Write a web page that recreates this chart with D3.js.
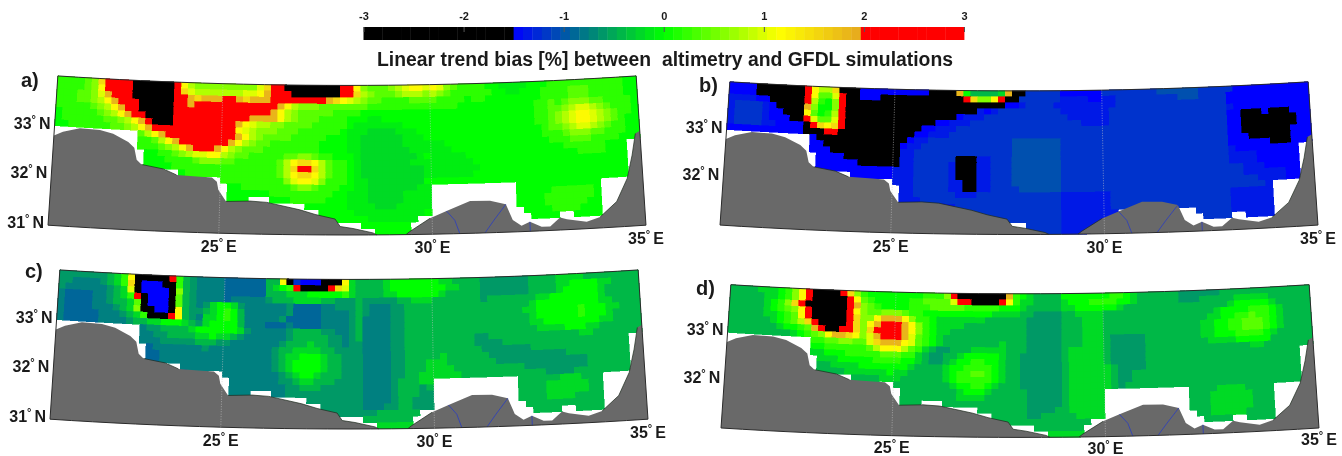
<!DOCTYPE html>
<html>
<head>
<meta charset="utf-8">
<title>Linear trend bias</title>
<script src="https://d3js.org/d3.v7.min.js"></script>
<style>
  body { margin: 0; background: #fff; }
  svg { filter: blur(0.4px); }
  text { font-family: "Liberation Sans", Arial, sans-serif; font-weight: bold; fill: #1a1a1a; }
</style>
</head>
<body>
<svg width="1342" height="456"></svg>
<script>
// Colour bar
var barDomain = [-3, 3];
var barTicks = [-3, -2, -1, 0, 1, 2, 3];
var barSteps = 64;

// Code letters used in the grids below -> bias in %
var levelCodes = ["k", "b", "a", "c", "j", "d", "e", "f", "g", "h", "i", "0", "1", "2", "3", "4", "5", "6", "7", "8", "r"];
var levelValues = [-2, -1.5, -1.35, -1.2, -1.03, -0.9, -0.75, -0.6, -0.42, -0.22, -0.1, 0, 0.2, 0.4, 0.6, 0.8, 1, 1.2, 1.5, 1.85, 2.5];

// Grid: 6 cells per degree lon from 21E, 8 per degree lat from 34N, one group per degree
var lonStart = 21, lonStep = 1 / 6, latStart = 34, latStep = 1 / 8;

// a) altimetry vs GFDL
var biasA = [
"111123 7rrrrk kkkkkr 643333 333335 7rrkkk kkkkkr r63222 345665 653211 1100ii ii0001 111111 111100",
"111123 6rrrrk kkkkkr 754444 444556 8rrrkk kkkkkr r74322 234443 432111 11100i i00011 112221 111100",
"111223 58rrrk kkkkkr r87888 rr8788 8rrrrr rrr876 543221 111222 211110 110000 000011 112221 111100",
"111223 468rrr kkkkkr r8rrrr rrrrrr rr8643 332222 222111 111111 111100 000000 000112 123332 211110",
"111112 3468rr kkkkkr rrrrrr rrrrrr r86432 222211 110000 000000 000000 000000 000112 234554 321110",
"011111 23468r rkkkkr rrrrrr rrrr88 886432 221111 000ii0 000000 000000 000000 000112 345665 432110",
"011111 122346 8rkkkr rrrrrr rr8654 433222 211111 0iiiii ii0000 000000 000000 000112 345665 432100",
"001111 112234 68rrrr rrrrrr rr6543 332221 111110 iiihhh hiii00 000000 000000 000012 234554 321100",
"...... ...... 2468rr rrrrrr rr8643 222211 111000 iihhhh hhiii0 000000 000000 000011 123332 211100",
"...... ...... 112468 rrrrrr r86432 211111 110000 iihhhh hhiiii ii0000 000000 000001 112221 111000",
"...... ...... 111234 68rrr8 643222 111111 110000 iihhhh hhhiii iii000 000000 000000 011111 1000..",
"...... ...... .00112 345566 432211 111223 321100 0ihhhh hhhhi0 iiiii0 000000 000000 000111 1000..",
"...... ...... .00011 112333 221111 112467 764211 0ihhhh hhhiii iiiiii 000000 000000 000000 0000..",
"...... ...... .00001 111111 111111 11247r r74211 0ihhhh hhhhhi iiiiii i00000 000000 000000 0000..",
"...... ...... ...... 011111 111111 112467 764211 0ihhhh hhhhhi iiiiii 000000 000000 000000 0000..",
"...... ...... ...... 0111.. 111111 111356 653111 0iihhh hhhhh0 000000 000000 000000 000000 0000..",
"...... ...... ...... ...... .00111 111123 321110 0iihhh hhhhii ...... ...... 000000 000000 ......",
"...... ...... ...... ...... .00000 011111 111100 iiihhh hhiiii ...... ...... 000001 111110 ......",
"...... ...... ...... ...... .000.. .00011 111000 iiihhh hhiiii ...... ...... 000011 111110 ......",
"...... ...... ...... ...... ...... ...... 000000 iiiihh hiiiii ...... ...... 000011 111100 ......",
"...... ...... ...... ...... ...... ...... ..0000 0iiiii iiiii0 ...... ...... .00001 111000 ......",
"...... ...... ...... ...... ...... ...... ..0000 000iii iiii.. ...... ...... ..0000 ..0000 ......",
"...... ...... ...... ...... ...... ...... ...... ..0000 000... ...... ...... ...... ...... ......",
"...... ...... ...... ...... ...... ...... ...... ....00 000... ...... ...... ...... ...... ......"
];

// b)
var biasB = [
"bbbbkk kkkkkr 6447kk kbbbbb bbbbbk kkk80g gggh8k kccccc bbbbbb cccccc ccjjjj jjcccc cbbbbb bbbbbb",
"bbbbkk kkkkkr 6225rk kbbbkk kkkkkk kkkkr7 336rkk cccccc aaaabb aacccc cccccj jjcccc bbbbbb bbbbbb",
"aaaabb kkkkkr 4103rk kkkkkk kkkkkk kkkkkk kkkkbb acccca aaaaaa aacccc cccccc cccccc bbbbbb bbbbbb",
"acccca bkkkk8 3003rk kkkkkk kkkkkk kkkkkk abaccc cccccc aaaaaa accccc cccccc cccccc abbbbb bbbbbb",
"acccca bbkkk6 2014rk kkkkkk kkkkkk kkkbaa accccc cccccc caaaaa accccc cccccc cccccc bbkkkb kkkbbb",
"acccca bbbkkr 5225rk kkkkkk kkkkkk bbaaac cccccc cccccc cccaaa accccc cccccc cccccc bbkkkk kkkkbb",
"acccca abbbbk r767rk kkkkkk kkkkbb aaaccc cccccc cccccc cccccc cccccc cccccc cccccc bbkkkk kkkkbb",
"bbbbbb bbbbbk kkrrkk kkkkkk kkkbba aacccc cccccc cccccc cccccc cccccc cccccc cccccc bbkkkk kkkbbb",
"...... ...... bkkkkk kkkkkk kkbaac cccccc cccccj jjjjjj cccccc cccccc cccccc cccccc bbbkkk kkkbbb",
"...... ...... bbkkkk kkkkkk kbaacc cccccc cccccj jjjjjj cccccc cccccc cccccc cccccc bbbbbb kkkbbb",
"...... ...... bbbkkk kkkkkk kaaccc cccccc cccccj jjjjjj cccccc cccccc cccccc cccccc abbbbb bbbb..",
"...... ...... .bbbbk kkkkkk kaaccc ccckkk aacccj jjjjjj cccccc cccccc cccccc cccccc aaaabb bbbb..",
"...... ...... .bbbbb bkkkkk kaaccc ccakkk aacccj jjjjjj cccccc cccccc cccccc cccccc aaaabb bbbb..",
"...... ...... .bbbbb bbbbbb aaaccc ccakkk aacccj jjjjjj cccccc cccccc cccccc cccccc ccaaab bbbb..",
"...... ...... ...... bbbbbb aaaccc ccakkk aacccj jjjjjj cccccc cccccc cccccc cccccc ccaaaa aabb..",
"...... ...... ...... bbbb.. aaaccc ccaakk aacccj jjjjjj cccccc cccccc cccccc cccccc ccccaa aabb..",
"...... ...... ...... ...... .aaccc ccaakk aacccc jjjjjj cccccc cccccc cccccc cccccc ccccca ......",
"...... ...... ...... ...... .aaccc cccaaa cccccc cccccc aaaaaa accccc cccccc cccccc aaaaaa ......",
"...... ...... ...... ...... .aaacc cccccc cccccc cccccc aaaaaa accccc cccccc cccccc aaaaaa ......",
"...... ...... ...... ...... .aaa.. .aaccc cccccc cccccc aaaaaa acccc. .ccccc cccccc aaaaaa ......",
"...... ...... ...... ...... ...... .....c cccccc cccccc aaaaaa aa.... cccc.. .ccccc aaaaaa ......",
"...... ...... ...... ...... ...... ...... .ccccc cccccc aaaaaa aa.... ...... ..cccc ..aaaa ......",
"...... ...... ...... ...... ...... ...... ...... .ccccc aaaaaa ...... ...... ...... ...... ......",
"...... ...... ...... ...... ...... ...... ...... .ccccc aaaa.. ...... ...... ...... ...... ......"
];

// c)
var biasC = [
"ffffff fgh16k kkkkr1 gfeeee dddddd gg6kcb bbkkk6 hggggh 000000 0hhggg gfffff ffgggg hhhhgg gggggg",
"ffeeee fgh17k bbbkk1 gfeeee dddddd gh01rk kkkr75 hggggh 000000 00hhgg gfffff ffgggg hh0000 hhgggg",
"feeeee efgh5k bbbbk3 gfeeee dddddd ggghhh 000001 hggggh h00000 0hgggg gfffff ffgggg h00000 hggggg",
"edddde efgh1r kbbbk2 gfeeee deeeee fggghh hhggff fgffff fgghhh gggggg gfgggg ggghh0 000000 hggggg",
"edddde efggh2 kbbbk2 gfefh0 0hfeee eeefdd ddeeff fgfeee ffgggg gggggg gggggg ggh000 000000 hhgggg",
"edddde eefgh3 kkbbk6 gffgh0 10geee eeefdd ddeeee fgfeee ffgggg gggggg gggggg ghh000 000100 0hhggg",
"eddddd eeefgh 1kkkr6 gfehh0 10geee eefddd ddeeee fgeeee ffgggg gggggg gggggg ggh000 000100 0hgggg",
"eddddd eeeefg ghh000 hgfh00 00geee dddedd ddeeee fgeeee ffgggg gggggg gggggg gghh00 000000 hhgggg",
"...... ...... effggg gh0000 00hfee eeefgg ggffee fgeeee ffgggg gggggg gggggg ggghhh h000hh gggggg",
"...... ...... eeffgg gghh0h hgfeee eeefgg gggffe fgeeee ffgggg gggggg ffgggg gggggg ggghhg gggggg",
"...... ...... eeefff ffgggf feeeee eefggg hggffe ffeeee ffgggg gggggg ffffgg gggggg gggggg gggg..",
"...... ...... .deeee eeefee eeeeee efgghh hhggff ffeeee ffgggg gggggg gfffff ffgggg gggggg gggg..",
"...... ...... .ddeee eeeeee eeeeee efghh0 00hggf ffeeee ffgggg ghgggg ggffff ffffff fggggg gggg..",
"...... ...... .ddeee eeeeee eeeeee efgh00 00hggf ffeeee ffgggh hhgggg gggfff ffffff ffffgg gggg..",
"...... ...... ...... eeeeee eeeeee efgh00 00hggf ffeeee ffgggh hhhggg gggggg gfffff ffffgg gggg..",
"...... ...... ...... deee.. eeeeee eefgh0 0hgggf ffeeee ffgghh hhhhgg gggggg ggggff ffgggg gggg..",
"...... ...... ...... ...... .eeeee eeffgh hgggff ffeeee fggghh ...... ...... gggggg hhhggg ......",
"...... ...... ...... ...... .eeeee eeeffg ggffff ffeeee fgggfg ...... ...... gggghh hhhhgg ......",
"...... ...... ...... ...... .eee.. .eefff ffffff ffeeee fgggff ...... ...... gggghh hhhhgg ......",
"...... ...... ...... ...... ...... ...... ffffff ffeeee fggfff ...... ...... gggghh hhgggg ......",
"...... ...... ...... ...... ...... ...... ..ffff ffeeef fggfff ...... ...... .ggggg gggggg ......",
"...... ...... ...... ...... ...... ...... ..ffff ffffgg gggg.. ...... ...... ..gggg ..gggg ......",
"...... ...... ...... ...... ...... ...... ...... ..gggg ggg... ...... ...... ...... ...... ......",
"...... ...... ...... ...... ...... ...... ...... ....hh hhh... ...... ...... ...... ...... ......"
];

// d)
var biasD = [
"gggghh h0136r kkkkr7 310000 000011 13rkkk kkkk81 0hgggg 000000 0110hg gggggf fffffg gggggg gggggg",
"gggggh h0136r kkkkkr 621000 001122 225rrk kkkr61 hhgggg h00011 1100hg gggggf ffgggg ghhhhh gggggg",
"gggggh 0137rk kkkkkr 832100 001112 222211 111000 hggggg hh0000 00hggg gggggg gggggg h00000 hggggg",
"gggggh 01236r kkkkkr 632233 321100 000000 00hhhh ggffff gghhhh gggggg gggggg ggggh0 000111 0hgggg",
"gggggh h0126r kkkkkr 733688 863110 hhhhhh hggggg gfffff ggghhh gggggg gggggg ggghh0 011211 0hgggg",
"gggggg h01247 rkkkkr 7368rr r86310 hhhhgg gggggg gfffff ggghhh gggggg gggggg gghh00 112221 0hgggg",
"gggggg gh0012 8rkkrr 737rrr r86310 hhgggg gggggg gfffff ggghhh gggggg gggggg gghh00 112221 0hgggg",
"gggggg gggh01 236887 6358rr r85210 hggggg gggggg gfffff ggghhh gfffff gggggg gghh00 011110 hggggg",
"...... ...... 112233 225788 865210 hggggg ggghgg gfffff ggghhh gfffff gggggg ggghhh h00000 gggggg",
"...... ...... 001111 112466 6421hg ffgggh hhhhgg gfffff ghhhhh gfffff gggggg gggggg ggghhg gggggg",
"...... ...... hh0001 111122 211hgf fggh00 000hgg ffffff ghhhhh gfffff gggggg gggggg gggggg gggg..",
"...... ...... .hhh00 000111 100hgf fgh001 100hgg ffffff ghhhhh gfffff gggggg gggggg gggggg gggg..",
"...... ...... .gghhh h00000 00hggg gh0011 110hgg ffffff ghhhhh hgffff gggggg gggggg gggggg gggg..",
"...... ...... .ggggh hhhhh0 hhgggg gh0112 210hgg ffffff ghhhhh hgffgg gggggg gggggg gggggg gggg..",
"...... ...... ...... gggghh hggggg gh0111 110hgg ffffff ghhhhh hgffgg gggggg gggggg gggggg gggg..",
"...... ...... ...... gggg.. gggggg ggh001 10hggg ffffff ghhhhh hgfggg gggggg gggggg gggggg gggg..",
"...... ...... ...... ...... .ggggg gggh00 0hgggg gfffff ghhhhh ...... ...... gggghh hhgggg ......",
"...... ...... ...... ...... .ggggg ggghhh hggggg gfffff ghhhhh ...... ...... ggghhh hhhggg ......",
"...... ...... ...... ...... .ggg.. .ggggg gggggg gfffff ghhhhh ...... ...... ggghhh hhhggg ......",
"...... ...... ...... ...... ...... ...... gggggg gffffg ghhhhh ...... ...... ggghhh hhhggg ......",
"...... ...... ...... ...... ...... ...... ..gggg gffggg gghhhh ...... ...... .gghhh hhgggg ......",
"...... ...... ...... ...... ...... ...... ..gggg gggggg gggg.. ...... ...... ..gggg ..gggg ......",
"...... ...... ...... ...... ...... ...... ...... ..gggg ggg... ...... ...... ...... ...... ......",
"...... ...... ...... ...... ...... ...... ...... ....hh hhh... ...... ...... ...... ...... ......"
];

// Coast and rivers as [lon, lat]
var coastWest = [[21,32.8],[21.21,32.89],[21.61,32.98],[22.09,32.97],[22.41,32.91],[22.78,32.76],[22.93,32.65],[23,32.41],[23.12,32.32],[23.64,32.25],[23.96,32.14],[24.52,32.12],[24.8,32.11],[24.92,32.03],[24.96,31.87],[25.15,31.64],[25.71,31.66],[26.11,31.64],[26.89,31.5],[27.25,31.41],[27.72,31.32],[27.84,31.17],[28.14,31.13],[28.61,31.04],[28.7,31]];
var coastEast = [[29.38,31],[29.47,31.06],[29.95,31.32],[30.34,31.46],[30.9,31.65],[31.37,31.64],[31.74,31.56],[31.89,31.24],[32.09,31.12],[32.29,31.19],[32.56,31.08],[32.76,31.08],[33,31.25],[33.16,31.21],[33.62,31.14],[33.94,31.22],[34.35,31.51],[34.63,31.96],[34.78,32.42],[34.89,32.85],[35,32.9]];
var rivers = [
  [[30.34,31.46],[30.53,31.27],[30.64,31]],
  [[31.74,31.56],[31.45,31.25],[31.23,31]],
  [[32.29,31.19],[32.29,31]]
];
var gridLons = [25, 30];
var lonEdges = [21, 35], latEdges = [31, 34];

// Panel placement on the page
var panels = [
  { name: "a)", grid: biasA, cx: 347, bottom: 235, sy: 1, nameX: 21, nameY: 87, lonDy: 19, latLabels: [31, 32, 33] },
  { name: "b)", grid: biasB, cx: 1019, bottom: 234.5, sy: 0.96, nameX: 699, nameY: 92, lonDy: 19, latLabels: [32, 33] },
  { name: "c)", grid: biasC, cx: 349, bottom: 429, sy: 1, nameX: 25, nameY: 278, lonDy: 19, latLabels: [31, 32, 33] },
  { name: "d)", grid: biasD, cx: 1020, bottom: 437.4, sy: 0.96, nameX: 696, nameY: 295, lonDy: 17, latLabels: [32, 33] }
];

var svg = d3.select("svg");

// Colours
var midScale = d3.scaleLinear()
  .domain([-1.5, 0, 1.15, 1.95])
  .range(["#0000ff", "#00ff00", "#ffff00", "#e6aa1e"]);
function biasColor(v) {
  if (v < -1.5) return "#000000";
  if (v >= 1.97) return "#ff0000";
  return midScale(v);
}

// Colour bar with its axis
var barX = d3.scaleLinear().domain(barDomain).range([363.5, 964]);
var barStep = (barDomain[1] - barDomain[0]) / barSteps;
var bar = svg.append("g");
bar.selectAll("rect").data(d3.range(barSteps)).enter()
  .append("rect")
  .attr("x", function(i) { return barX(barDomain[0] + i * barStep); })
  .attr("width", function() { return barX(barStep) - barX(0) + 0.4; })
  .attr("y", 27)
  .attr("height", 13)
  .attr("fill", function(i) { return biasColor(barDomain[0] + (i + 0.5) * barStep); });

var barAxis = svg.append("g").attr("transform", "translate(0,27)")
  .call(d3.axisTop(barX).tickValues(barTicks).tickFormat(String).tickSize(-5).tickPadding(7));
barAxis.select(".domain").remove();
barAxis.selectAll("line").attr("stroke", "#555");
barAxis.selectAll("text").attr("font-size", 11).style("font-family", "'Liberation Sans', Arial, sans-serif").attr("fill", "#1a1a1a");

svg.append("text")
  .attr("x", 377).attr("y", 66)
  .attr("font-size", 20)
  .attr("textLength", 576).attr("lengthAdjust", "spacingAndGlyphs")
  .style("white-space", "pre")
  .text("Linear trend bias [%] between  altimetry and GFDL simulations");

// Same conic map for all panels, shifted and squeezed per panel
var conic = d3.geoConicEquidistant()
  .parallels(latEdges)
  .rotate([-28, 0])
  .scale(2857)
  .translate([0, 0]);
var origin = conic([28, 31]);

function makeProject(p) {
  return function(c) {
    var q = conic(c);
    return [p.cx + q[0] - origin[0], p.bottom + (q[1] - origin[1]) * p.sy];
  };
}

function parseGrid(rows) {
  var cells = [];
  rows.forEach(function(row, j) {
    row.replace(/ /g, "").split("").forEach(function(ch, i) {
      var k = levelCodes.indexOf(ch);
      if (k >= 0) cells.push({ i: i, j: j, v: levelValues[k] });
    });
  });
  return cells;
}

panels.forEach(function(p) {
  var project = makeProject(p);
  var line = d3.line();
  var g = svg.append("g");

  // Bias cells
  g.append("g").attr("shape-rendering", "crispEdges").selectAll("path").data(parseGrid(p.grid)).enter()
    .append("path")
    .attr("d", function(c) {
      var w = lonStart + c.i * lonStep, e = w + lonStep;
      var n = latStart - c.j * latStep, s = n - latStep;
      return line([[w, n], [e, n], [e, s], [w, s]].map(project)) + "Z";
    })
    .attr("fill", function(c) { return biasColor(c.v); })
    .attr("stroke", function(c) { return biasColor(c.v); })
    .attr("stroke-width", 0.6);

  // Land
  var bottomWest = d3.range(28.5, 20.9, -0.5).map(function(x) { return [x, 31]; });
  var bottomEast = d3.range(35, 29.3, -0.5).map(function(x) { return [x, 31]; });
  var land = [coastWest.concat(bottomWest), coastEast.concat(bottomEast)];
  g.selectAll("path.land").data(land).enter()
    .append("path").attr("class", "land")
    .attr("d", function(d) { return line(d.map(project)) + "Z"; })
    .attr("fill", "#696969");

  // Coast line where the field meets the land
  [coastWest.slice(8, 11), coastWest.slice(15, 25), coastEast.slice(0, 3), coastEast.slice(15, 20)].forEach(function(part) {
    g.append("path")
      .attr("d", line(part.map(project)))
      .attr("fill", "none").attr("stroke", "#1c2a1c").attr("stroke-width", 0.7);
  });

  // Rivers
  g.selectAll("path.river").data(rivers).enter()
    .append("path").attr("class", "river")
    .attr("d", function(d) { return line(d.map(project)); })
    .attr("fill", "none").attr("stroke", "#2a3cc0").attr("stroke-width", 0.8);

  // Dotted meridians
  g.selectAll("path.meridian").data(gridLons).enter()
    .append("path").attr("class", "meridian")
    .attr("d", function(lon) { return line([[lon, 31], [lon, 34]].map(project)); })
    .attr("stroke", "#c8c8c8").attr("stroke-width", 0.6).attr("stroke-dasharray", "1,1.5").attr("fill", "none");

  // Frame
  var frame = d3.range(lonEdges[0], lonEdges[1] + 0.1, 0.5).map(function(x) { return [x, latEdges[1]]; })
    .concat(d3.range(lonEdges[1], lonEdges[0] - 0.1, -0.5).map(function(x) { return [x, latEdges[0]]; }));
  g.append("path")
    .attr("d", line(frame.map(project)) + "Z")
    .attr("fill", "none").attr("stroke", "#2a2a2a").attr("stroke-width", 1);

  // Labels
  g.append("text").attr("x", p.nameX).attr("y", p.nameY).attr("font-size", 20).text(p.name);

  p.latLabels.forEach(function(lat) {
    var q = project([lonEdges[0], lat]);
    var t = g.append("text").attr("x", q[0] - 4).attr("y", q[1] + 3).attr("text-anchor", "end").attr("font-size", 16);
    t.append("tspan").text(lat);
    t.append("tspan").attr("dy", -6).attr("font-size", 11).text("°");
    t.append("tspan").attr("dy", 6).attr("dx", 3).text("N");
  });
  gridLons.concat([35]).forEach(function(lon) {
    var q = project([lon, latEdges[0]]);
    var t = g.append("text").attr("x", q[0]).attr("y", q[1] + p.lonDy).attr("text-anchor", "middle").attr("font-size", 16);
    t.append("tspan").text(lon);
    t.append("tspan").attr("dy", -6).attr("font-size", 11).text("°");
    t.append("tspan").attr("dy", 6).attr("dx", 3).text("E");
  });
});
</script>
</body>
</html>
